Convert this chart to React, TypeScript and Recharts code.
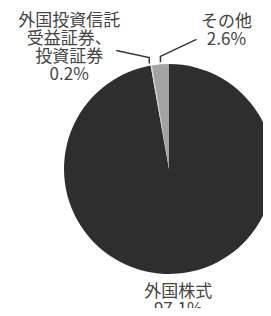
import React from "react";
import { PieChart, Pie, Cell } from "recharts";

const names = ["外国株式", "外国投資信託受益証券、投資証券", "その他"];
const values = [97.1, 0.2, 2.6];
const labelLines = [["外国株式", "97.1%"], ["外国投資信託", "受益証券、", "投資証券", "0.2%"], ["その他", "2.6%"]];
const colors = ["#2e2e2e", "#d9d9d9", "#a3a3a3"];

const data = names.map((name, i) => ({ name, value: values[i] }));

const RAD = Math.PI / 180;
const FONT = "'Noto Sans CJK JP', 'Noto Sans', sans-serif";

function renderLabel(props: any) {
  const { cx, cy, midAngle, outerRadius, index } = props;
  const ex = cx + outerRadius * Math.cos(-midAngle * RAD);
  const ey = cy + outerRadius * Math.sin(-midAngle * RAD);
  const lines = labelLines[index];
  const lh = 18;

  if (index === 0) {
    return (
      <text x={ex} y={ey + 17} textAnchor="middle" fill="#444" fontSize={17} fontFamily={FONT}>
        {lines.map((t, i) => (
          <tspan key={i} x={ex} dy={i === 0 ? "0.35em" : lh}>{t}</tspan>
        ))}
      </text>
    );
  }

  const left = index === 1;
  const kx = left ? ex - 2 : ex;
  const ky = ey - 8;
  const tx = left ? kx - 33 : kx + 36;
  const ty = left ? ky - 7 : ky - 17;
  const cxText = left ? kx - 80 : kx + 66;
  const startY = left ? 20 : 21;
  return (
    <g>
      <polyline
        points={`${kx},${ey - 2} ${kx},${ky} ${tx},${ty}`}
        fill="none"
        stroke="#333"
        strokeWidth={1.5}
      />
      <text x={cxText} y={startY} textAnchor="middle" fill="#444" fontSize={17} fontFamily={FONT}>
        {lines.map((t, i) => (
          <tspan key={i} x={cxText} dy={i === 0 ? "0.35em" : lh}>{t}</tspan>
        ))}
      </text>
    </g>
  );
}

export default function App() {
  return (
    <div style={{ margin: -8, width: 271, height: 316, background: "#fff" }}>
      <PieChart width={271} height={316}>
        <Pie
          data={data}
          dataKey="value"
          cx={164}
          cy={164}
          outerRadius={105}
          startAngle={90}
          endAngle={-270}
          stroke="none"
          label={renderLabel}
          labelLine={false}
          isAnimationActive={false}
        >
          {data.map((entry, index) => (
            <Cell key={`cell-${index}`} fill={colors[index]} />
          ))}
        </Pie>
      </PieChart>
    </div>
  );
}
